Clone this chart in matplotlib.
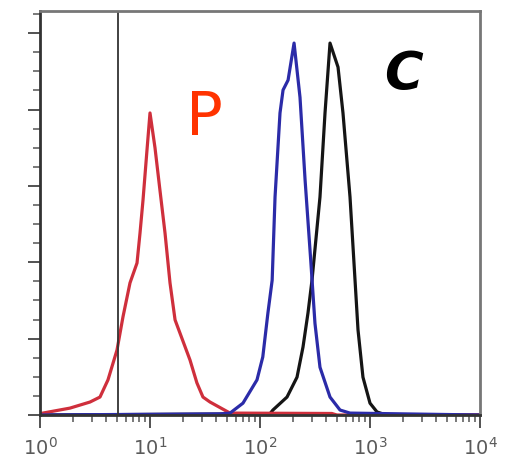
import matplotlib
matplotlib.use("Agg")
import matplotlib.pyplot as plt
from matplotlib.ticker import LogLocator, MultipleLocator, NullFormatter, FixedLocator, FixedFormatter

# Red population (P)
red_x = [1.0, 1.06, 1.87, 2.85, 3.51, 4.15, 5.01, 5.68, 6.58, 7.62, 8.11, 8.64, 9.39, 10.0,
         11.1, 12.3, 13.7, 15.2, 16.9, 18.7, 23.1, 26.7, 30.3, 35.1, 53.4, 450, 500, 10000]
red_y = [0.3, 0.5, 1.8, 3.4, 4.7, 9.2, 17.0, 25.7, 34.6, 39.8, 47.6, 56.3, 69.4, 79.1,
         70.0, 59.0, 47.6, 34.6, 24.9, 21.5, 14.4, 8.4, 4.7, 3.4, 0.5, 0.4, 0.0, 0.0]

# Blue population
blue_x = [1.0, 43.3, 53.4, 70.0, 93.9, 106, 118, 129, 137, 152, 162, 180, 204, 231, 257,
          290, 316, 351, 433, 534, 658, 10000]
blue_y = [0.0, 0.3, 0.5, 3.1, 9.2, 15.2, 26.7, 35.3, 57.1, 79.1, 85.1, 87.7, 97.4, 83.2, 61.5,
          40.0, 24.0, 12.5, 4.7, 1.3, 0.5, 0.0]

# Black population (C)
black_x = [1.0, 123, 131, 176, 217, 246, 273, 297, 351, 390, 433, 512, 568, 658, 731, 778,
           863, 1000, 1158, 1400, 10000]
black_y = [0.0, 0.3, 1.3, 4.7, 9.9, 17.8, 26.7, 35.3, 57.1, 79.1, 97.4, 91.1, 79.1, 57.1, 35.3, 22.3,
           9.9, 3.1, 0.8, 0.0, 0.0]

gate_x = 5.1
xtick_vals = [1, 10, 100, 1000, 10000]
xtick_labels = [r"$10^{0}$", r"$10^{1}$", r"$10^{2}$", r"$10^{3}$", r"$10^{4}$"]

fig = plt.figure(figsize=(5.06, 4.69), dpi=100)
ax = fig.add_axes([40/506, 54/469, 440/506, 404/469])

ax.plot(black_x, black_y, color="#151515", lw=2.3, solid_joinstyle="round")
ax.plot(red_x, red_y, color="#cf2f3c", lw=2.3, solid_joinstyle="round")
ax.plot(blue_x, blue_y, color="#2b2ba8", lw=2.3, solid_joinstyle="round")
ax.axvline(gate_x, color="#333333", lw=1.3)

ax.set_xscale("log")
ax.set_xlim(1, 10000)
ax.set_ylim(0, 105.8)

ax.xaxis.set_major_locator(FixedLocator(xtick_vals))
ax.xaxis.set_major_formatter(FixedFormatter(xtick_labels))
ax.xaxis.set_minor_locator(LogLocator(base=10, subs=range(2, 10)))
ax.xaxis.set_minor_formatter(NullFormatter())

ax.yaxis.set_major_locator(MultipleLocator(20))
ax.yaxis.set_minor_locator(MultipleLocator(5))
ax.set_yticklabels([])

ax.tick_params(axis="both", which="major", direction="out", length=9, width=1.3, color="#444444")
ax.tick_params(axis="both", which="minor", direction="out", length=5, width=1.1, color="#555555")
ax.tick_params(axis="x", labelsize=14, labelcolor="#5a5a5a", pad=7)

for side in ["left", "bottom"]:
    ax.spines[side].set_linewidth(2.0)
    ax.spines[side].set_color("#333333")
for side in ["top", "right"]:
    ax.spines[side].set_linewidth(2.0)
    ax.spines[side].set_color("#777777")

ax.text(10**((204-40)/110), (415-118)/76.4*20, "P", color="#ff3300", fontsize=44,
        ha="center", va="center", family="DejaVu Sans")
ax.text(10**((403-40)/110), (415-75)/76.4*20, "C", color="black", fontsize=38,
        ha="center", va="center", family="DejaVu Sans", fontstyle="italic", fontweight="bold")

fig.savefig("out.png", dpi=100)
